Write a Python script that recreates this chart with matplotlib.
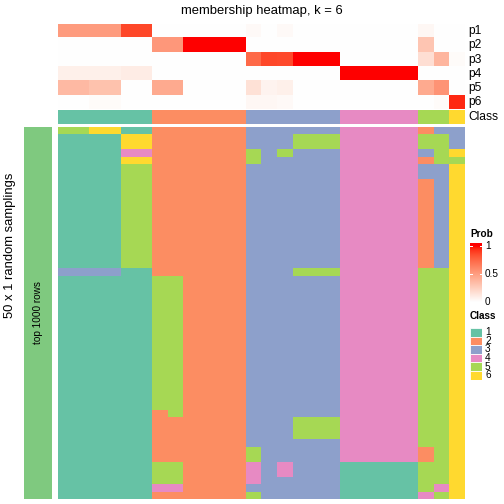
import numpy as np
import matplotlib
matplotlib.use('Agg')
import matplotlib.pyplot as plt
from matplotlib.colors import ListedColormap, BoundaryNorm

plt.rcParams['font.family'] = ['Liberation Sans', 'DejaVu Sans']

W = H = 504

# membership probabilities of the 26 samples
p1 = [0.51, 0.51, 0.51, 0.51, 0.87, 0.87, 0, 0, 0, 0, 0, 0, 0.03, 0, 0.03, 0, 0, 0, 0, 0, 0, 0, 0, 0.04, 0, 0]
p2 = [0, 0, 0, 0, 0, 0, 0.53, 0.53, 1, 1, 1, 1, 0, 0, 0, 0, 0, 0, 0, 0, 0, 0, 0, 0.3, 0, 0]
p3 = [0, 0, 0, 0, 0, 0, 0, 0, 0, 0, 0, 0, 0.74, 0.87, 0.86, 1, 1, 1, 0, 0, 0, 0, 0, 0.17, 0.38, 0.02]
p4 = [0.08, 0.08, 0.08, 0.08, 0.1, 0.1, 0, 0, 0, 0, 0, 0, 0, 0, 0, 0, 0, 0, 1, 1, 1, 1, 1, 0, 0, 0]
p5 = [0.36, 0.36, 0.32, 0.32, 0, 0, 0.44, 0.44, 0, 0, 0, 0, 0.16, 0.06, 0.08, 0, 0, 0, 0, 0, 0, 0, 0, 0.44, 0.55, 0]
p6 = [0, 0, 0.02, 0.02, 0, 0, 0, 0, 0, 0, 0, 0, 0.04, 0.04, 0.03, 0, 0, 0, 0, 0, 0, 0, 0, 0, 0.02, 0.95]
sample_class = [1, 1, 1, 1, 1, 1, 2, 2, 2, 2, 2, 2, 3, 3, 3, 3, 3, 3, 4, 4, 4, 4, 4, 5, 5, 6]

# class assigned in each of the 50 random samplings (one string per sampling)
samplings = [
    "55661122222233333344444233",
    "11116622222233355544444553",
    "11116622222233355544444553",
    "11114422222253533344444356",
    "11116622222253333344444255",
    "11115522222233333344444336",
    "11115522222233333344444336",
    "11115522222233333344444236",
    "11115522222233333344444236",
    "11115522222233333344444236",
    "11115522222233333344444236",
    "11115522222233333344444236",
    "11115522222233333344444236",
    "11115522222233333344444236",
    "11115522222233333344444236",
    "11115522222233333344444236",
    "11115522222233333344444236",
    "11115522222233333344444236",
    "11115522222233333344444236",
    "33331122222233355544444556",
    "11111155222233333344444556",
    "11111155222233333344444556",
    "11111155222233333344444556",
    "11111155222233333344444556",
    "11111155222233333344444556",
    "11111155222233333344444556",
    "11111155222233333344444556",
    "11111155222233333344444556",
    "11111155222233333344444556",
    "11111155222233333344444556",
    "11111155222233333344444556",
    "11111155222233333344444556",
    "11111155222233333344444556",
    "11111155222233333344444556",
    "11111155222233333344444556",
    "11111155222233333344444556",
    "11111155222233333344444556",
    "11111155222233333344444556",
    "11111125222233333344444556",
    "11111122222233355544444556",
    "11111122222233355544444556",
    "11111122222233355544444556",
    "11111122222233333344444556",
    "11111122222253333344444256",
    "11111122222253333344444256",
    "11111155222243433311111556",
    "11111155222243433311111556",
    "11111155222243333311111556",
    "11111144222233333311111546",
    "11111122222253333311111456",
]
class_labels = ['1', '2', '3', '4', '5', '6']
class_colors = ['#66C2A5', '#FC8D62', '#8DA0CB', '#E78AC3', '#A6D854', '#FFD92F']


def white_red_lab(n=256):
    # white -> red interpolated in CIE LAB, like colorRamp2
    t = np.linspace(0, 1, n)
    L = 100 - (100 - 53.24) * t
    a = 80.09 * t
    b = 67.20 * t
    fy = (L + 16) / 116
    fx = fy + a / 500
    fz = fy - b / 200

    def finv(f):
        return np.where(f ** 3 > 0.008856, f ** 3, (f - 16 / 116) / 7.787)
    xyz = np.vstack([0.95047 * finv(fx), finv(fy), 1.08883 * finv(fz)])
    M = np.array([[3.2406, -1.5372, -0.4986],
                  [-0.9689, 1.8758, 0.0415],
                  [0.0557, -0.2040, 1.0570]])
    lin = np.clip(M @ xyz, 0, 1)
    rgb = np.where(lin <= 0.0031308, 12.92 * lin, 1.055 * lin ** (1 / 2.4) - 0.055)
    return ListedColormap(np.clip(rgb.T, 0, 1))


prob_cmap = white_red_lab()
class_cmap = ListedColormap(class_colors)
class_norm = BoundaryNorm(np.arange(0.5, 7.5, 1), 6)

fig = plt.figure(figsize=(7, 7), dpi=72)


def px_axes(x0, y0, x1, y1):
    ax = fig.add_axes([x0 / W, 1 - y1 / H, (x1 - x0) / W, (y1 - y0) / H])
    ax.set_axis_off()
    return ax


def fig_text(x, y, s, **kw):
    fig.text(x / W, 1 - y / H, s, **kw)


# top annotation: probabilities
ax_p = px_axes(58, 24, 465, 109.3)
ax_p.imshow(np.array([p1, p2, p3, p4, p5, p6]), cmap=prob_cmap, vmin=0, vmax=1,
            aspect='auto', interpolation='nearest')
for i, name in enumerate(['p1', 'p2', 'p3', 'p4', 'p5', 'p6']):
    fig_text(468, 24 + 14.22 * (i + 0.5), name, fontsize=12, va='center', ha='left')

# class annotation
ax_c = px_axes(58, 110, 465, 124)
ax_c.imshow(np.array([sample_class]), cmap=class_cmap, norm=class_norm,
            aspect='auto', interpolation='nearest')
fig_text(468, 117, 'Class', fontsize=12, va='center', ha='left')

# main heatmap
mat = np.array([[int(c) for c in r] for r in samplings])
ax = px_axes(58, 127, 465, 499)
ax.imshow(mat, cmap=class_cmap, norm=class_norm, aspect='auto', interpolation='nearest')

# left annotation
ax_l = px_axes(24, 127, 52, 499)
ax_l.set_axis_on()
ax_l.set_facecolor('#7FC97F')
ax_l.set_xticks([])
ax_l.set_yticks([])
for s in ax_l.spines.values():
    s.set_visible(False)
ax_l.text(0.5, 0.5, 'top 1000 rows', rotation=90, ha='center', va='center',
          fontsize=10, transform=ax_l.transAxes)

fig_text(10, 245, '50 x 1 random samplings', rotation=90, fontsize=13,
         ha='center', va='center')
fig_text(261.5, 11, 'membership heatmap, k = 6', fontsize=13, ha='center', va='center')

# legend: Prob
fig_text(470, 234, 'Prob', fontsize=10, fontweight='bold', ha='left', va='center')
ax_g = px_axes(470, 243, 482, 302)
top = 59 / 56
grad = np.clip(np.linspace(0, top, 200), 0, 1)[:, None]
ax_g.imshow(grad, cmap=prob_cmap, vmin=0, vmax=1, aspect='auto', origin='lower',
            extent=(0, 1, 0, top), interpolation='bilinear')
ax_g.set_xlim(0, 1)
ax_g.set_ylim(0, top)
for v in [0.5, 1.0]:
    ax_g.plot([0, 0.2], [v, v], color='white', lw=1)
    ax_g.plot([0.8, 1], [v, v], color='white', lw=1)
for v, lab in [(1, '1'), (0.5, '0.5'), (0, '0')]:
    fig_text(485, 302 - 56 * v, lab, fontsize=10, ha='left', va='center')

# legend: Class
fig_text(470, 316, 'Class', fontsize=10, fontweight='bold', ha='left', va='center')
for i, (lab, col) in enumerate(zip(class_labels, class_colors)):
    y0 = 328 + 8.6 * i
    ax_k = px_axes(470, y0, 482, y0 + 8.6)
    ax_k.add_patch(plt.Rectangle((0, 0), 1, 1, facecolor=col, edgecolor='white', lw=0.8))
    fig_text(485, y0 + 4.3, lab, fontsize=10, ha='left', va='center')

fig.savefig('out.png', dpi=72)
